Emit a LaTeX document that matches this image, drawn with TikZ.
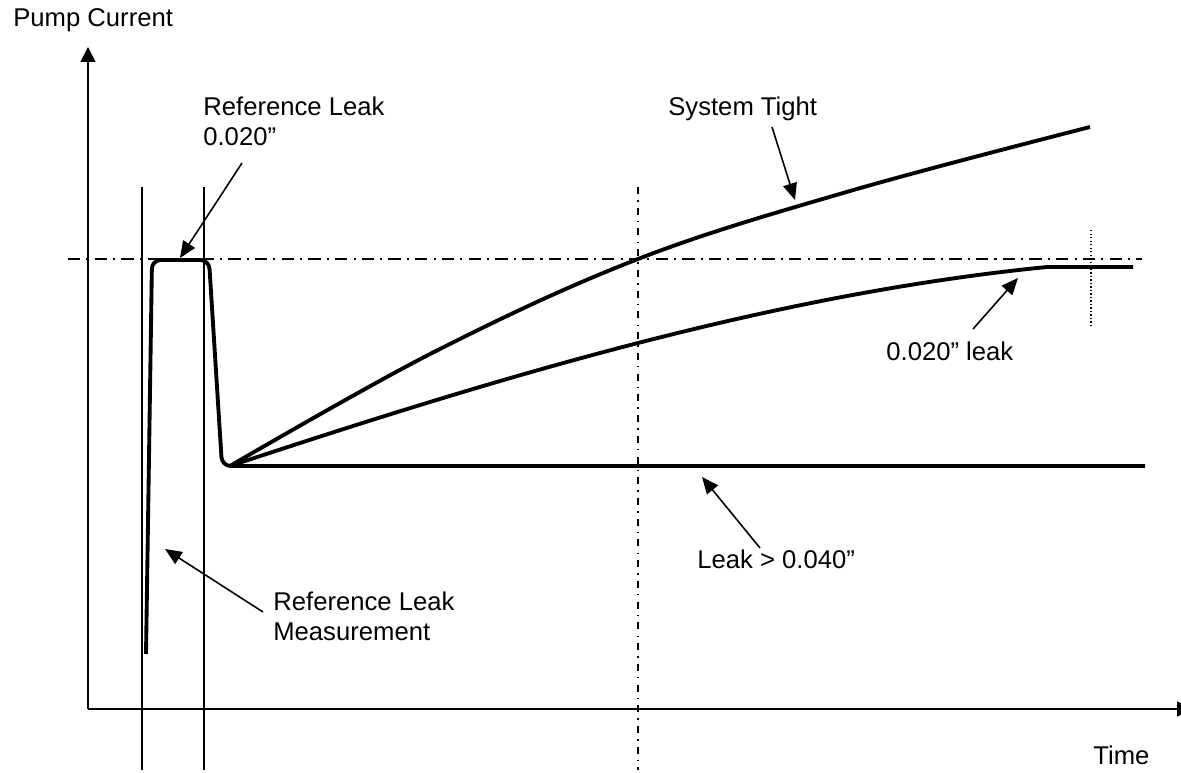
\documentclass[tikz,border=0pt]{standalone}
\usepackage{fontspec}
\setmainfont{Liberation Sans}
\usetikzlibrary{arrows.meta}

\begin{document}
\begin{tikzpicture}[x=0.02cm, y=-0.02cm,
    trace/.style={line width=2.2pt, line join=round},
    thinline/.style={line width=0.8pt},
    axisline/.style={line width=0.9pt, -{Triangle[length=8.5pt,width=8.5pt]}},
    pointer/.style={line width=0.9pt, -{Triangle[length=9.5pt,width=8pt]}},
    lbl/.style={inner sep=0pt, font=\fontsize{14.6}{16.8}\selectfont, align=left}]
    \useasboundingbox (0,0) rectangle (1181,773);

    \coordinate (origin) at (88,709);
    \coordinate (ytop) at (88,47);
    \coordinate (xend) at (1192,709);
    \draw[axisline] (origin) -- (ytop);
    \draw[axisline] (origin) -- (xend);

    \foreach \x in {142,204} {
        \draw[thinline] (\x,187) -- (\x,770);
    }
    \draw[line width=0.9pt, dash pattern=on 7pt off 3.5pt on 1.2pt off 3.5pt] (68,259) -- (1142,259);
    \draw[line width=0.8pt, dash pattern=on 4pt off 3.5pt on 0.8pt off 3.5pt] (638,187) -- (638,770);
    \draw[line width=0.7pt, dash pattern=on 0.8pt off 1.2pt] (1091,230) -- (1091,325);

    \coordinate (base) at (230,466);
    \draw[trace, rounded corners=5pt] (146,654) -- (152,260) -- (209,260) -- (222,466) -- (1145,466);
    \draw[trace] plot[smooth, tension=0.6] coordinates {(230,466) (434,352) (638,259) (850,191) (1090,127)};
    \draw[trace] (base) .. controls (502,376) and (775,294) .. (1047,267) -- (1133,267);

    \node[lbl, anchor=base west] (pump) at (13,27) {Pump Current};
    \node[lbl, anchor=base west] (time) at (1093,765) {Time};
    \node[lbl, anchor=north west] (refleak) at (203,97) {Reference Leak\\0.020”};
    \node[lbl, anchor=base west] (tight) at (668,116) {System Tight};
    \node[lbl, anchor=base west] (leak20) at (886,361) {0.020” leak};
    \node[lbl, anchor=base west] (leak40) at (697,569) {Leak > 0.040”};
    \node[lbl, anchor=north west] (refmeas) at (273,592) {Reference Leak\\Measurement};

    \coordinate (refleak-from) at (242,163);
    \coordinate (refleak-to) at (180,258);
    \coordinate (tight-from) at (772,127);
    \coordinate (tight-to) at (795,200);
    \coordinate (leak20-from) at (973,329);
    \coordinate (leak20-to) at (1018,278);
    \coordinate (leak40-from) at (760,548);
    \coordinate (leak40-to) at (702,477);
    \coordinate (refmeas-from) at (263,612);
    \coordinate (refmeas-to) at (165,549);
    \draw[pointer] (refleak-from) -- (refleak-to);
    \draw[pointer] (tight-from) -- (tight-to);
    \draw[pointer] (leak20-from) -- (leak20-to);
    \draw[pointer] (leak40-from) -- (leak40-to);
    \draw[pointer] (refmeas-from) -- (refmeas-to);
\end{tikzpicture}
\end{document}
